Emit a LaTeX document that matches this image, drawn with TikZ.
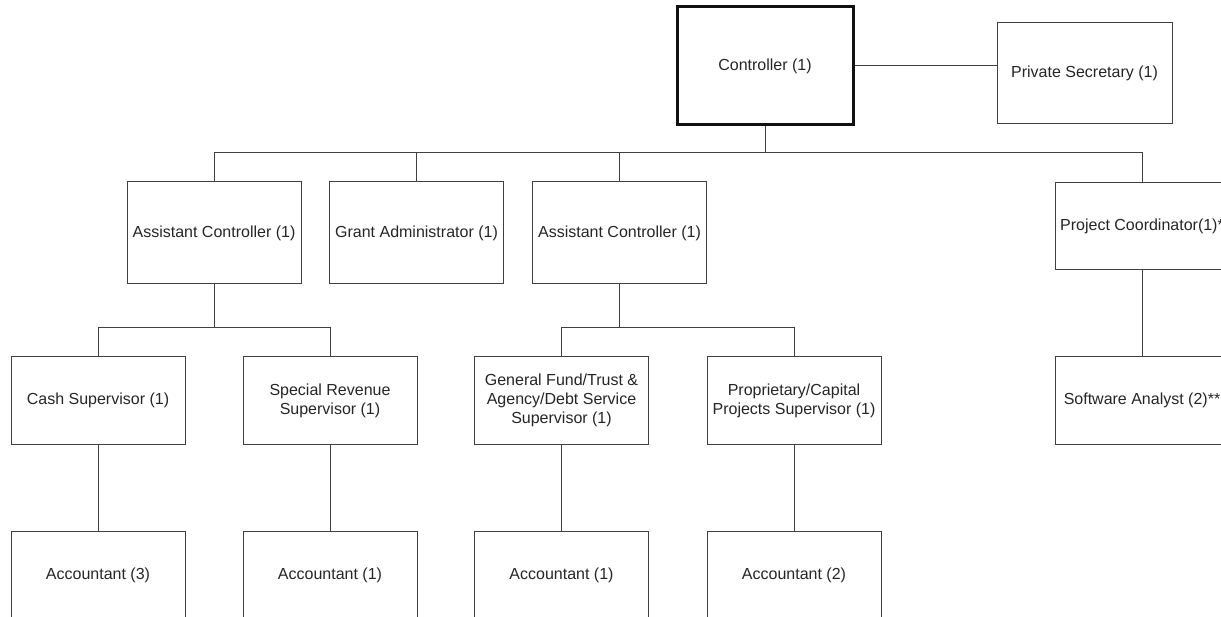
\documentclass[tikz,border=0pt]{standalone}
\usepackage{fontspec}
\setmainfont{Liberation Sans}
\usetikzlibrary{positioning,calc}
\definecolor{cline}{HTML}{404040}
\definecolor{chead}{HTML}{111111}
\definecolor{ctext}{HTML}{262626}

\begin{document}
\begin{tikzpicture}[
    x=1pt, y=-1pt,
    font=\fontsize{16}{19}\selectfont,
    link/.style={line width=1pt, cline},
    posbox/.style={
        draw=cline, line width=1pt, fill=white,
        minimum width=174pt, minimum height=87pt,
        align=center, text=ctext, inner sep=2pt,
    },
    tallbox/.style={posbox, minimum height=102pt},
    headbox/.style={posbox, draw=chead, line width=3pt,
        minimum width=176pt, minimum height=118pt},
]

\useasboundingbox (0,0) rectangle (1221,617);
\fill[white] (0,0) rectangle (1221,617);
\clip (0,0) rectangle (1221,617);

% ============================================================
% TOP: Controller and secretary
% ============================================================
\node[headbox] (ctrl) at (765,66) {Controller (1)};
\node[tallbox, minimum width=175pt, minimum height=101pt] (psec) at (1084.5,73.5) {Private Secretary (1)};

\draw[link] (ctrl.east) -- (ctrl.east -| psec.west);

% ============================================================
% SECOND ROW
% ============================================================
\node[tallbox] (asst1) at (214,233) {Assistant Controller (1)};
\node[tallbox] (grant) at (416.5,233) {Grant Administrator (1)};
\node[tallbox] (asst2) at (619.5,233) {Assistant Controller (1)};
\node[posbox] (pcoord) at (1142,226) {Project Coordinator(1)*};

\coordinate (topbus) at (765,153);
\draw[link] (ctrl.south) -- (topbus);
\foreach \n in {asst1,grant,asst2,pcoord} {
    \draw[link] (\n.north) |- (topbus);
}

% ============================================================
% SUPERVISORS
% ============================================================
\node[posbox] (cash) at (98,400.5) {Cash Supervisor (1)};
\node[posbox] (specrev) at (330,400.5) {Special Revenue\\Supervisor (1)};
\node[posbox] (genfund) at (561.5,400.5) {General Fund/Trust \&\\Agency/Debt Service\\Supervisor (1)};
\node[posbox] (propcap) at (794,400.5) {Proprietary/Capital\\Projects Supervisor (1)};
\node[posbox] (softan) at (1142,400.5) {Software Analyst (2)**};

\coordinate (leftbus) at (214,328);
\coordinate (midbus) at (619.5,328);
\draw[link] (asst1.south) -- (leftbus);
\draw[link] (cash.north) |- (leftbus);
\draw[link] (specrev.north) |- (leftbus);
\draw[link] (asst2.south) -- (midbus);
\draw[link] (genfund.north) |- (midbus);
\draw[link] (propcap.north) |- (midbus);
\draw[link] (pcoord) -- (softan);

% ============================================================
% ACCOUNTANTS
% ============================================================
\node[posbox, minimum height=88pt] (acc1) at (98,575) {Accountant (3)};
\node[posbox, minimum height=88pt] (acc2) at (330,575) {Accountant (1)};
\node[posbox, minimum height=88pt] (acc3) at (561.5,575) {Accountant (1)};
\node[posbox, minimum height=88pt] (acc4) at (794,575) {Accountant (2)};

\draw[link] (cash) -- (acc1);
\draw[link] (specrev) -- (acc2);
\draw[link] (genfund) -- (acc3);
\draw[link] (propcap) -- (acc4);

\end{tikzpicture}
\end{document}
